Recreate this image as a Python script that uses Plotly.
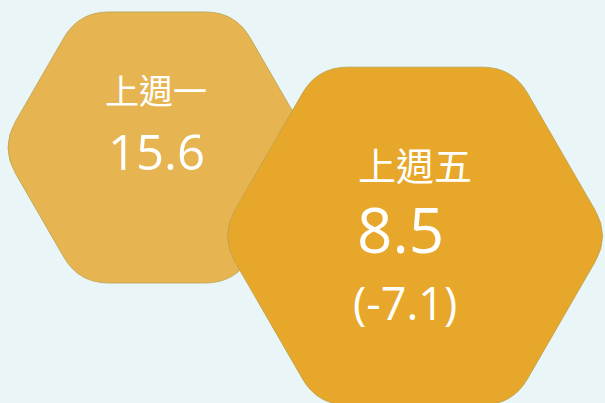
import math
import plotly.graph_objects as go

# ---- data ----
labels = ["上週一", "上週五"]
values = [15.6, 8.5]
changes = [None, -7.1]

# ---- layout constants (pixel space) ----
W, H = 605, 403
BG = "#E9F5F6"
fills = ["#E6B552", "#E7A72B"]
centers = [(157, 147.5), (415, 236)]
radii = [156.5, 195]
corner = 30

label_sizes = [34, 38]
value_sizes = [49, 62]
label_pos = [(156, 89), (415, 163)]
value_pos = [(156, 151), (400, 229)]
change_pos = (405, 302)
change_size = 45


def hex_path(cx, cy, R, r):
    pts = [(cx + R * math.cos(math.radians(a)), cy + R * math.sin(math.radians(a)))
           for a in range(0, 360, 60)]
    n = len(pts)
    segs = []
    for i in range(n):
        p = pts[i - 1]
        v = pts[i]
        q = pts[(i + 1) % n]
        d1 = math.dist(p, v)
        d2 = math.dist(q, v)
        a = (v[0] + (p[0] - v[0]) * r / d1, v[1] + (p[1] - v[1]) * r / d1)
        b = (v[0] + (q[0] - v[0]) * r / d2, v[1] + (q[1] - v[1]) * r / d2)
        cmd = "M" if i == 0 else "L"
        segs.append(f"{cmd}{a[0]:.2f},{a[1]:.2f}")
        segs.append(f"Q{v[0]:.2f},{v[1]:.2f} {b[0]:.2f},{b[1]:.2f}")
    segs.append("Z")
    return " ".join(segs)


fig = go.Figure()
fig.add_trace(go.Scatter(x=[0, W], y=[0, H], mode="markers",
                         marker=dict(opacity=0), hoverinfo="skip", showlegend=False))

shapes = []
for (cx, cy), R, col in zip(centers, radii, fills):
    shapes.append(dict(type="path", path=hex_path(cx, cy, R, corner),
                       xref="x", yref="y", fillcolor=col,
                       line=dict(color="#B9A24C", width=0.8), layer="below"))

FONT = "Noto Sans CJK TC, Open Sans, sans-serif"
NUMFONT = "Open Sans, sans-serif"
annotations = []
for i, lab in enumerate(labels):
    annotations.append(dict(x=label_pos[i][0], y=label_pos[i][1], text=lab,
                            showarrow=False, xref="x", yref="y",
                            xanchor="center", yanchor="middle",
                            font=dict(family=FONT, size=label_sizes[i], color="white", weight=400)))
    annotations.append(dict(x=value_pos[i][0], y=value_pos[i][1], text=f"{values[i]}",
                            showarrow=False, xref="x", yref="y",
                            xanchor="center", yanchor="middle",
                            font=dict(family=NUMFONT, size=value_sizes[i], color="white", weight=500)))
    if changes[i] is not None:
        annotations.append(dict(x=change_pos[0], y=change_pos[1], text=f"({changes[i]})",
                                showarrow=False, xref="x", yref="y",
                                xanchor="center", yanchor="middle",
                                font=dict(family=NUMFONT, size=change_size, color="white", weight=400)))

fig.update_layout(
    width=W, height=H,
    margin=dict(l=0, r=0, t=0, b=0),
    paper_bgcolor=BG, plot_bgcolor=BG,
    xaxis=dict(range=[0, W], visible=False, fixedrange=True),
    yaxis=dict(range=[H, 0], visible=False, fixedrange=True),
    shapes=shapes, annotations=annotations, showlegend=False,
)

fig.write_html("out.html", config={"displayModeBar": False},
               post_script="document.body.style.margin='0';document.body.style.padding='0';")
